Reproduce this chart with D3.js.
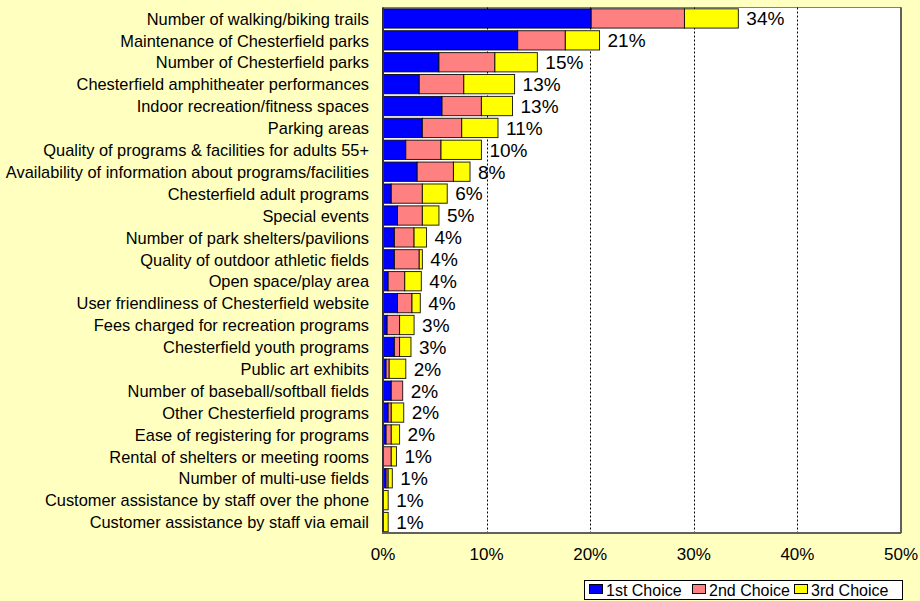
<!DOCTYPE html>
<html>
<head>
<meta charset="utf-8">
<script src="https://cdn.jsdelivr.net/npm/d3@7"></script>
<style>
  html, body { margin: 0; padding: 0; background: #FFFFC0; }
  svg { display: block; }
  text { font-family: Arial, "Liberation Sans", sans-serif; fill: #000; }
</style>
</head>
<body>
<svg id="chart" width="920" height="601"></svg>
<script>
const categories = [
  "Number of walking/biking trails",
  "Maintenance of Chesterfield parks",
  "Number of Chesterfield parks",
  "Chesterfield amphitheater performances",
  "Indoor recreation/fitness spaces",
  "Parking areas",
  "Quality of programs & facilities for adults 55+",
  "Availability of information about programs/facilities",
  "Chesterfield adult programs",
  "Special events",
  "Number of park shelters/pavilions",
  "Quality of outdoor athletic fields",
  "Open space/play area",
  "User friendliness of Chesterfield website",
  "Fees charged for recreation programs",
  "Chesterfield youth programs",
  "Public art exhibits",
  "Number of baseball/softball fields",
  "Other Chesterfield programs",
  "Ease of registering for programs",
  "Rental of shelters or meeting rooms",
  "Number of multi-use fields",
  "Customer assistance by staff over the phone",
  "Customer assistance by staff via email"
];
const firstChoice  = [20.1, 13.0, 5.4, 3.5, 5.7, 3.8, 2.2, 3.3, 0.8, 1.4, 1.1, 1.1, 0.5, 1.4, 0.4, 1.1, 0.3, 0.8, 0.5, 0.3, 0.0, 0.3, 0.0, 0.0];
const secondChoice = [9.0, 4.6, 5.4, 4.3, 3.8, 3.8, 3.4, 3.5, 3.0, 2.4, 1.9, 2.4, 1.6, 1.4, 1.2, 0.5, 0.3, 1.1, 0.3, 0.5, 0.8, 0.2, 0.0, 0.0];
const thirdChoice  = [5.2, 3.3, 4.1, 4.9, 3.0, 3.5, 3.9, 1.6, 2.4, 1.6, 1.2, 0.3, 1.6, 0.8, 1.4, 1.1, 1.6, 0.0, 1.2, 0.8, 0.5, 0.4, 0.5, 0.5];
const totalLabels  = ["34%", "21%", "15%", "13%", "13%", "11%", "10%", "8%", "6%", "5%", "4%", "4%", "4%", "4%", "3%", "3%", "2%", "2%", "2%", "2%", "1%", "1%", "1%", "1%"];
const seriesNames  = ["1st Choice", "2nd Choice", "3rd Choice"];
const seriesColors = ["#0000FF", "#FF8080", "#FFFF00"];
const xTicks = [0, 10, 20, 30, 40, 50];

const svg = d3.select("#chart");
const plot = { left: 383, right: 901, top: 7.5, bottom: 533 };

const x = d3.scaleLinear().domain([0, 50]).range([plot.left, plot.right]);
const y = d3.scaleBand().domain(categories).range([plot.top, plot.bottom]).paddingInner(0.12).paddingOuter(0.06);

// plot background
svg.append("rect")
  .attr("x", plot.left).attr("y", plot.top)
  .attr("width", plot.right - plot.left).attr("height", plot.bottom - plot.top)
  .attr("fill", "#FFFFFF")
  .attr("stroke", "#808080").attr("stroke-width", 1);

// gridlines
svg.append("g").selectAll("line")
  .data(xTicks.filter(d => d > 0 && d < 50))
  .join("line")
  .attr("x1", d => Math.round(x(d)) + 0.5).attr("x2", d => Math.round(x(d)) + 0.5)
  .attr("y1", plot.top).attr("y2", plot.bottom)
  .attr("stroke", "#000").attr("stroke-width", 1)
  .attr("stroke-dasharray", "2,2");

// right border darker
svg.append("line")
  .attr("x1", plot.right).attr("x2", plot.right)
  .attr("y1", plot.top).attr("y2", plot.bottom)
  .attr("stroke", "#404040").attr("stroke-width", 1.5);

// stacked bars
const rows = categories.map((c, i) => ({ cat: c, v: [firstChoice[i], secondChoice[i], thirdChoice[i]], label: totalLabels[i] }));
const stackData = rows.map(r => {
  let acc = 0;
  return r.v.map((v, k) => { const s = { cat: r.cat, k, x0: acc, x1: acc + v }; acc += v; return s; });
});

const barG = svg.append("g");
stackData.forEach(segs => {
  segs.filter(s => s.x1 - s.x0 > 0).forEach(s => {
    barG.append("rect")
      .attr("x", x(s.x0)).attr("y", y(s.cat))
      .attr("width", x(s.x1) - x(s.x0)).attr("height", y.bandwidth())
      .attr("fill", seriesColors[s.k])
      .attr("stroke", "#000").attr("stroke-width", 1)
      .attr("stroke-opacity", 0.85);
  });
});

// value labels
svg.append("g").selectAll("text")
  .data(rows)
  .join("text")
  .attr("x", d => x(d3.sum(d.v)) + 8)
  .attr("y", d => y(d.cat) + y.bandwidth() / 2)
  .attr("dy", "0.36em")
  .attr("font-size", 19)
  .text(d => d.label);

// category labels
svg.append("g").selectAll("text")
  .data(categories)
  .join("text")
  .attr("x", 369)
  .attr("y", d => y(d) + y.bandwidth() / 2)
  .attr("dy", "0.38em")
  .attr("text-anchor", "end")
  .attr("font-size", 16.4)
  .text(d => d);

// axes lines
svg.append("line")
  .attr("x1", plot.left).attr("x2", plot.left)
  .attr("y1", plot.top).attr("y2", plot.bottom)
  .attr("stroke", "#303030").attr("stroke-width", 2);
svg.append("line")
  .attr("x1", plot.left - 1).attr("x2", plot.right)
  .attr("y1", plot.bottom).attr("y2", plot.bottom)
  .attr("stroke", "#606060").attr("stroke-width", 2);

// x tick labels
svg.append("g").selectAll("text")
  .data(xTicks)
  .join("text")
  .attr("x", d => x(d))
  .attr("y", 560)
  .attr("text-anchor", "middle")
  .attr("font-size", 17)
  .text(d => d + "%");

// legend
const lg = svg.append("g");
lg.append("rect")
  .attr("x", 584.5).attr("y", 580.5).attr("width", 318).attr("height", 19)
  .attr("fill", "#FFFFFF").attr("stroke", "#000").attr("stroke-width", 1);
const itemX = [589, 692, 794];
seriesNames.forEach((n, k) => {
  lg.append("rect")
    .attr("x", itemX[k] + 0.5).attr("y", 584.5).attr("width", 13).attr("height", 9)
    .attr("fill", seriesColors[k]).attr("stroke", "#000").attr("stroke-width", 1);
  lg.append("text")
    .attr("x", itemX[k] + 17).attr("y", 596)
    .attr("font-size", 16)
    .text(n);
});
</script>
</body>
</html>
